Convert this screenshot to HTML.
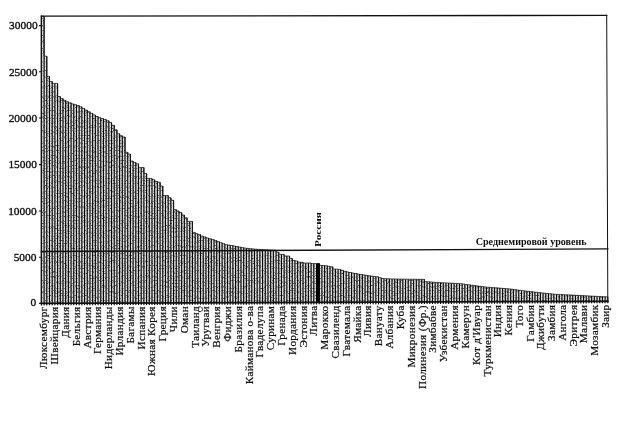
<!DOCTYPE html>
<html lang="ru"><head><meta charset="utf-8"><title>Chart</title>
<style>
html,body{margin:0;padding:0;background:#fff;}
body{width:632px;height:422px;overflow:hidden;}
svg{display:block;filter:grayscale(1);font-family:"Liberation Serif","DejaVu Serif",serif;fill:#111;}
.yl{font-size:11.4px;text-anchor:end;stroke:#111;stroke-width:0.35px;}
.xl{font-size:11.2px;text-anchor:end;stroke:#111;stroke-width:0.22px;letter-spacing:0.3px;}
.b{font-weight:bold;}
</style></head><body>
<svg width="632" height="422" viewBox="0 0 632 422">
<defs><filter id="n" x="0" y="0" width="100%" height="100%" color-interpolation-filters="sRGB"><feTurbulence type="fractalNoise" baseFrequency="1.0 0.6" numOctaves="2" seed="7"/><feColorMatrix type="matrix" values="0 0 0 0 0  0 0 0 0 0  0 0 0 0 0  2.6 0 0 0 -1.28"/></filter><clipPath id="cb"><path d="M41.40 303.40L41.40 16.30L44.10 16.30L44.10 56.20L46.79 56.20L46.79 76.50L49.49 76.50L49.49 81.50L52.19 81.50L52.19 83.40L54.89 83.40L54.89 83.40L57.58 83.40L57.58 96.50L60.28 96.50L60.28 98.60L62.98 98.60L62.98 100.33L65.67 100.33L65.67 101.78L68.37 101.78L68.37 102.84L71.07 102.84L71.07 103.89L73.77 103.89L73.77 104.73L76.46 104.73L76.46 105.54L79.16 105.54L79.16 106.81L81.86 106.81L81.86 108.44L84.55 108.44L84.55 110.06L87.25 110.06L87.25 111.69L89.95 111.69L89.95 113.32L92.65 113.32L92.65 114.92L95.34 114.92L95.34 116.52L98.04 116.52L98.04 117.72L100.74 117.72L100.74 118.53L103.43 118.53L103.43 119.44L106.13 119.44L106.13 120.76L108.83 120.76L108.83 122.45L111.53 122.45L111.53 125.37L114.22 125.37L114.22 129.79L116.92 129.79L116.92 133.76L119.62 133.76L119.62 135.68L122.31 135.68L122.31 137.00L125.01 137.00L125.01 152.30L127.71 152.30L127.71 154.00L130.41 154.00L130.41 161.00L133.10 161.00L133.10 162.40L135.80 162.40L135.80 163.80L138.50 163.80L138.50 167.60L141.19 167.60L141.19 167.60L143.89 167.60L143.89 173.46L146.59 173.46L146.59 178.40L149.29 178.40L149.29 178.40L151.98 178.40L151.98 179.70L154.68 179.70L154.68 181.34L157.38 181.34L157.38 182.20L160.07 182.20L160.07 186.00L162.77 186.00L162.77 195.49L165.47 195.49L165.47 195.59L168.17 195.59L168.17 197.71L170.86 197.71L170.86 200.20L173.56 200.20L173.56 209.60L176.26 209.60L176.26 210.90L178.95 210.90L178.95 212.50L181.65 212.50L181.65 215.00L184.35 215.00L184.35 217.80L187.05 217.80L187.05 221.40L189.74 221.40L189.74 221.40L192.44 221.40L192.44 232.40L195.14 232.40L195.14 233.70L197.83 233.70L197.83 234.60L200.53 234.60L200.53 236.13L203.23 236.13L203.23 236.92L205.93 236.92L205.93 237.99L208.62 237.99L208.62 238.79L211.32 238.79L211.32 239.59L214.02 239.59L214.02 240.62L216.71 240.62L216.71 241.64L219.41 241.64L219.41 242.73L222.11 242.73L222.11 243.84L224.81 243.84L224.81 244.72L227.50 244.72L227.50 245.11L230.20 245.11L230.20 245.49L232.90 245.49L232.90 246.04L235.59 246.04L235.59 246.59L238.29 246.59L238.29 247.11L240.99 247.11L240.99 247.63L243.69 247.63L243.69 248.08L246.38 248.08L246.38 248.38L249.08 248.38L249.08 248.68L251.78 248.68L251.78 248.94L254.47 248.94L254.47 249.19L257.17 249.19L257.17 249.40L259.87 249.40L259.87 249.57L262.57 249.57L262.57 249.73L265.26 249.73L265.26 249.86L267.96 249.86L267.96 249.99L270.66 249.99L270.66 250.11L273.35 250.11L273.35 250.23L276.05 250.23L276.05 252.20L278.75 252.20L278.75 254.34L281.45 254.34L281.45 254.40L284.14 254.40L284.14 256.00L286.84 256.00L286.84 256.00L289.54 256.00L289.54 258.50L292.23 258.50L292.23 260.57L294.93 260.57L294.93 261.00L297.63 261.00L297.63 262.30L300.33 262.30L300.33 262.30L303.02 262.30L303.02 263.00L305.72 263.00L305.72 263.00L308.42 263.00L308.42 263.00L311.11 263.00L311.11 263.60L313.81 263.60L313.81 263.60L316.51 263.60L316.51 263.60L319.21 263.60L319.21 265.37L321.90 265.37L321.90 265.59L324.60 265.59L324.60 265.80L327.30 265.80L327.30 266.31L329.99 266.31L329.99 266.84L332.69 266.84L332.69 269.00L335.39 269.00L335.39 269.16L338.09 269.16L338.09 269.45L340.78 269.45L340.78 270.39L343.48 270.39L343.48 271.34L346.18 271.34L346.18 271.96L348.87 271.96L348.87 272.52L351.57 272.52L351.57 273.05L354.27 273.05L354.27 273.55L356.97 273.55L356.97 274.05L359.66 274.05L359.66 274.48L362.36 274.48L362.36 274.91L365.06 274.91L365.06 275.33L367.75 275.33L367.75 275.76L370.45 275.76L370.45 276.15L373.15 276.15L373.15 276.49L375.85 276.49L375.85 276.87L378.54 276.87L378.54 277.78L381.24 277.78L381.24 278.53L383.94 278.53L383.94 278.67L386.63 278.67L386.63 278.81L389.33 278.81L389.33 278.92L392.03 278.92L392.03 278.97L394.73 278.97L394.73 279.02L397.42 279.02L397.42 279.08L400.12 279.08L400.12 279.12L402.82 279.12L402.82 279.15L405.51 279.15L405.51 279.18L408.21 279.18L408.21 279.21L410.91 279.21L410.91 279.25L413.61 279.25L413.61 279.28L416.30 279.28L416.30 279.31L419.00 279.31L419.00 279.34L421.70 279.34L421.70 279.37L424.39 279.37L424.39 281.63L427.09 281.63L427.09 281.83L429.79 281.83L429.79 282.02L432.49 282.02L432.49 282.22L435.18 282.22L435.18 282.41L437.88 282.41L437.88 282.60L440.58 282.60L440.58 282.76L443.27 282.76L443.27 282.89L445.97 282.89L445.97 283.02L448.67 283.02L448.67 283.14L451.37 283.14L451.37 283.27L454.06 283.27L454.06 283.39L456.76 283.39L456.76 283.52L459.46 283.52L459.46 283.71L462.15 283.71L462.15 284.10L464.85 284.10L464.85 284.48L467.55 284.48L467.55 284.86L470.25 284.86L470.25 285.24L472.94 285.24L472.94 285.60L475.64 285.60L475.64 285.94L478.34 285.94L478.34 286.29L481.03 286.29L481.03 286.63L483.73 286.63L483.73 286.97L486.43 286.97L486.43 287.20L489.13 287.20L489.13 287.41L491.82 287.41L491.82 287.62L494.52 287.62L494.52 287.83L497.22 287.83L497.22 288.04L499.91 288.04L499.91 288.26L502.61 288.26L502.61 288.47L505.31 288.47L505.31 288.69L508.01 288.69L508.01 288.90L510.70 288.90L510.70 289.21L513.40 289.21L513.40 289.61L516.10 289.61L516.10 290.00L518.79 290.00L518.79 290.38L521.49 290.38L521.49 290.70L524.19 290.70L524.19 291.02L526.89 291.02L526.89 291.34L529.58 291.34L529.58 291.65L532.28 291.65L532.28 291.96L534.98 291.96L534.98 292.27L537.67 292.27L537.67 292.58L540.37 292.58L540.37 292.89L543.07 292.89L543.07 293.18L545.77 293.18L545.77 293.46L548.46 293.46L548.46 293.73L551.16 293.73L551.16 294.01L553.86 294.01L553.86 294.29L556.55 294.29L556.55 294.42L559.25 294.42L559.25 294.55L561.95 294.55L561.95 294.68L564.65 294.68L564.65 294.81L567.34 294.81L567.34 294.93L570.04 294.93L570.04 295.06L572.74 295.06L572.74 295.19L575.43 295.19L575.43 295.32L578.13 295.32L578.13 295.45L580.83 295.45L580.83 295.59L583.53 295.59L583.53 295.74L586.22 295.74L586.22 295.88L588.92 295.88L588.92 296.03L591.62 296.03L591.62 296.18L594.31 296.18L594.31 296.31L597.01 296.31L597.01 296.44L599.71 296.44L599.71 296.57L602.41 296.57L602.41 296.70L605.10 296.70L605.10 296.83L607.80 296.83L607.80 301.30Z"/></clipPath></defs>
<rect width="632" height="422" fill="#fff"/>
<g id="bars">
<path d="M41.40 303.40L41.40 16.30L44.10 16.30L44.10 56.20L46.79 56.20L46.79 76.50L49.49 76.50L49.49 81.50L52.19 81.50L52.19 83.40L54.89 83.40L54.89 83.40L57.58 83.40L57.58 96.50L60.28 96.50L60.28 98.60L62.98 98.60L62.98 100.33L65.67 100.33L65.67 101.78L68.37 101.78L68.37 102.84L71.07 102.84L71.07 103.89L73.77 103.89L73.77 104.73L76.46 104.73L76.46 105.54L79.16 105.54L79.16 106.81L81.86 106.81L81.86 108.44L84.55 108.44L84.55 110.06L87.25 110.06L87.25 111.69L89.95 111.69L89.95 113.32L92.65 113.32L92.65 114.92L95.34 114.92L95.34 116.52L98.04 116.52L98.04 117.72L100.74 117.72L100.74 118.53L103.43 118.53L103.43 119.44L106.13 119.44L106.13 120.76L108.83 120.76L108.83 122.45L111.53 122.45L111.53 125.37L114.22 125.37L114.22 129.79L116.92 129.79L116.92 133.76L119.62 133.76L119.62 135.68L122.31 135.68L122.31 137.00L125.01 137.00L125.01 152.30L127.71 152.30L127.71 154.00L130.41 154.00L130.41 161.00L133.10 161.00L133.10 162.40L135.80 162.40L135.80 163.80L138.50 163.80L138.50 167.60L141.19 167.60L141.19 167.60L143.89 167.60L143.89 173.46L146.59 173.46L146.59 178.40L149.29 178.40L149.29 178.40L151.98 178.40L151.98 179.70L154.68 179.70L154.68 181.34L157.38 181.34L157.38 182.20L160.07 182.20L160.07 186.00L162.77 186.00L162.77 195.49L165.47 195.49L165.47 195.59L168.17 195.59L168.17 197.71L170.86 197.71L170.86 200.20L173.56 200.20L173.56 209.60L176.26 209.60L176.26 210.90L178.95 210.90L178.95 212.50L181.65 212.50L181.65 215.00L184.35 215.00L184.35 217.80L187.05 217.80L187.05 221.40L189.74 221.40L189.74 221.40L192.44 221.40L192.44 232.40L195.14 232.40L195.14 233.70L197.83 233.70L197.83 234.60L200.53 234.60L200.53 236.13L203.23 236.13L203.23 236.92L205.93 236.92L205.93 237.99L208.62 237.99L208.62 238.79L211.32 238.79L211.32 239.59L214.02 239.59L214.02 240.62L216.71 240.62L216.71 241.64L219.41 241.64L219.41 242.73L222.11 242.73L222.11 243.84L224.81 243.84L224.81 244.72L227.50 244.72L227.50 245.11L230.20 245.11L230.20 245.49L232.90 245.49L232.90 246.04L235.59 246.04L235.59 246.59L238.29 246.59L238.29 247.11L240.99 247.11L240.99 247.63L243.69 247.63L243.69 248.08L246.38 248.08L246.38 248.38L249.08 248.38L249.08 248.68L251.78 248.68L251.78 248.94L254.47 248.94L254.47 249.19L257.17 249.19L257.17 249.40L259.87 249.40L259.87 249.57L262.57 249.57L262.57 249.73L265.26 249.73L265.26 249.86L267.96 249.86L267.96 249.99L270.66 249.99L270.66 250.11L273.35 250.11L273.35 250.23L276.05 250.23L276.05 252.20L278.75 252.20L278.75 254.34L281.45 254.34L281.45 254.40L284.14 254.40L284.14 256.00L286.84 256.00L286.84 256.00L289.54 256.00L289.54 258.50L292.23 258.50L292.23 260.57L294.93 260.57L294.93 261.00L297.63 261.00L297.63 262.30L300.33 262.30L300.33 262.30L303.02 262.30L303.02 263.00L305.72 263.00L305.72 263.00L308.42 263.00L308.42 263.00L311.11 263.00L311.11 263.60L313.81 263.60L313.81 263.60L316.51 263.60L316.51 263.60L319.21 263.60L319.21 265.37L321.90 265.37L321.90 265.59L324.60 265.59L324.60 265.80L327.30 265.80L327.30 266.31L329.99 266.31L329.99 266.84L332.69 266.84L332.69 269.00L335.39 269.00L335.39 269.16L338.09 269.16L338.09 269.45L340.78 269.45L340.78 270.39L343.48 270.39L343.48 271.34L346.18 271.34L346.18 271.96L348.87 271.96L348.87 272.52L351.57 272.52L351.57 273.05L354.27 273.05L354.27 273.55L356.97 273.55L356.97 274.05L359.66 274.05L359.66 274.48L362.36 274.48L362.36 274.91L365.06 274.91L365.06 275.33L367.75 275.33L367.75 275.76L370.45 275.76L370.45 276.15L373.15 276.15L373.15 276.49L375.85 276.49L375.85 276.87L378.54 276.87L378.54 277.78L381.24 277.78L381.24 278.53L383.94 278.53L383.94 278.67L386.63 278.67L386.63 278.81L389.33 278.81L389.33 278.92L392.03 278.92L392.03 278.97L394.73 278.97L394.73 279.02L397.42 279.02L397.42 279.08L400.12 279.08L400.12 279.12L402.82 279.12L402.82 279.15L405.51 279.15L405.51 279.18L408.21 279.18L408.21 279.21L410.91 279.21L410.91 279.25L413.61 279.25L413.61 279.28L416.30 279.28L416.30 279.31L419.00 279.31L419.00 279.34L421.70 279.34L421.70 279.37L424.39 279.37L424.39 281.63L427.09 281.63L427.09 281.83L429.79 281.83L429.79 282.02L432.49 282.02L432.49 282.22L435.18 282.22L435.18 282.41L437.88 282.41L437.88 282.60L440.58 282.60L440.58 282.76L443.27 282.76L443.27 282.89L445.97 282.89L445.97 283.02L448.67 283.02L448.67 283.14L451.37 283.14L451.37 283.27L454.06 283.27L454.06 283.39L456.76 283.39L456.76 283.52L459.46 283.52L459.46 283.71L462.15 283.71L462.15 284.10L464.85 284.10L464.85 284.48L467.55 284.48L467.55 284.86L470.25 284.86L470.25 285.24L472.94 285.24L472.94 285.60L475.64 285.60L475.64 285.94L478.34 285.94L478.34 286.29L481.03 286.29L481.03 286.63L483.73 286.63L483.73 286.97L486.43 286.97L486.43 287.20L489.13 287.20L489.13 287.41L491.82 287.41L491.82 287.62L494.52 287.62L494.52 287.83L497.22 287.83L497.22 288.04L499.91 288.04L499.91 288.26L502.61 288.26L502.61 288.47L505.31 288.47L505.31 288.69L508.01 288.69L508.01 288.90L510.70 288.90L510.70 289.21L513.40 289.21L513.40 289.61L516.10 289.61L516.10 290.00L518.79 290.00L518.79 290.38L521.49 290.38L521.49 290.70L524.19 290.70L524.19 291.02L526.89 291.02L526.89 291.34L529.58 291.34L529.58 291.65L532.28 291.65L532.28 291.96L534.98 291.96L534.98 292.27L537.67 292.27L537.67 292.58L540.37 292.58L540.37 292.89L543.07 292.89L543.07 293.18L545.77 293.18L545.77 293.46L548.46 293.46L548.46 293.73L551.16 293.73L551.16 294.01L553.86 294.01L553.86 294.29L556.55 294.29L556.55 294.42L559.25 294.42L559.25 294.55L561.95 294.55L561.95 294.68L564.65 294.68L564.65 294.81L567.34 294.81L567.34 294.93L570.04 294.93L570.04 295.06L572.74 295.06L572.74 295.19L575.43 295.19L575.43 295.32L578.13 295.32L578.13 295.45L580.83 295.45L580.83 295.59L583.53 295.59L583.53 295.74L586.22 295.74L586.22 295.88L588.92 295.88L588.92 296.03L591.62 296.03L591.62 296.18L594.31 296.18L594.31 296.31L597.01 296.31L597.01 296.44L599.71 296.44L599.71 296.57L602.41 296.57L602.41 296.70L605.10 296.70L605.10 296.83L607.80 296.83L607.80 301.30Z" fill="#e2e2e2" stroke="none"/>
<g clip-path="url(#cb)"><rect x="40" y="14" width="570" height="292" fill="#000" filter="url(#n)"/></g>
<path d="M41.40 16.30V305.40M44.10 16.30V305.39M46.79 56.20V305.38M49.49 76.50V305.37M52.19 81.50V305.36M54.89 83.40V305.35M57.58 83.40V305.34M60.28 96.50V305.33M62.98 98.60V305.32M65.67 100.33V305.31M68.37 101.78V305.30M71.07 102.84V305.29M73.77 103.89V305.28M76.46 104.73V305.27M79.16 105.54V305.26M81.86 106.81V305.25M84.55 108.44V305.24M87.25 110.06V305.23M89.95 111.69V305.22M92.65 113.32V305.21M95.34 114.92V305.20M98.04 116.52V305.19M100.74 117.72V305.18M103.43 118.53V305.17M106.13 119.44V305.16M108.83 120.76V305.15M111.53 122.45V305.14M114.22 125.37V305.13M116.92 129.79V305.12M119.62 133.76V305.11M122.31 135.68V305.10M125.01 137.00V305.09M127.71 152.30V305.08M130.41 154.00V305.07M133.10 161.00V305.06M135.80 162.40V305.05M138.50 163.80V305.04M141.19 167.60V305.03M143.89 167.60V305.02M146.59 173.46V305.01M149.29 178.40V305.00M151.98 178.40V304.99M154.68 179.70V304.98M157.38 181.34V304.97M160.07 182.20V304.96M162.77 186.00V304.95M165.47 195.49V304.94M168.17 195.59V304.93M170.86 197.71V304.92M173.56 200.20V304.91M176.26 209.60V304.90M178.95 210.90V304.89M181.65 212.50V304.88M184.35 215.00V304.87M187.05 217.80V304.86M189.74 221.40V304.85M192.44 221.40V304.84M195.14 232.40V304.83M197.83 233.70V304.82M200.53 234.60V304.81M203.23 236.13V304.80M205.93 236.92V304.79M208.62 237.99V304.78M211.32 238.79V304.77M214.02 239.59V304.76M216.71 240.62V304.75M219.41 241.64V304.74M222.11 242.73V304.73M224.81 243.84V304.72M227.50 244.72V304.71M230.20 245.11V304.70M232.90 245.49V304.69M235.59 246.04V304.68M238.29 246.59V304.67M240.99 247.11V304.66M243.69 247.63V304.65M246.38 248.08V304.64M249.08 248.38V304.63M251.78 248.68V304.62M254.47 248.94V304.61M257.17 249.19V304.60M259.87 249.40V304.59M262.57 249.57V304.58M265.26 249.73V304.57M267.96 249.86V304.56M270.66 249.99V304.55M273.35 250.11V304.54M276.05 250.23V304.53M278.75 252.20V304.52M281.45 254.34V304.51M284.14 254.40V304.50M286.84 256.00V304.49M289.54 256.00V304.48M292.23 258.50V304.47M294.93 260.57V304.46M297.63 261.00V304.45M300.33 262.30V304.44M303.02 262.30V304.43M305.72 263.00V304.42M308.42 263.00V304.41M311.11 263.00V304.40M313.81 263.60V304.39M316.51 263.60V304.38M319.21 263.60V304.37M321.90 265.37V304.36M324.60 265.59V304.35M327.30 265.80V304.34M329.99 266.31V304.33M332.69 266.84V304.32M335.39 269.00V304.31M338.09 269.16V304.30M340.78 269.45V304.29M343.48 270.39V304.28M346.18 271.34V304.27M348.87 271.96V304.26M351.57 272.52V304.25M354.27 273.05V304.24M356.97 273.55V304.23M359.66 274.05V304.22M362.36 274.48V304.21M365.06 274.91V304.20M367.75 275.33V304.19M370.45 275.76V304.18M373.15 276.15V304.17M375.85 276.49V304.16M378.54 276.87V304.15M381.24 277.78V304.14M383.94 278.53V304.13M386.63 278.67V304.12M389.33 278.81V304.11M392.03 278.92V304.10M394.73 278.97V304.09M397.42 279.02V304.08M400.12 279.08V304.07M402.82 279.12V304.06M405.51 279.15V304.05M408.21 279.18V304.04M410.91 279.21V304.03M413.61 279.25V304.02M416.30 279.28V304.01M419.00 279.31V304.00M421.70 279.34V303.99M424.39 279.37V303.98M427.09 281.63V303.97M429.79 281.83V303.96M432.49 282.02V303.95M435.18 282.22V303.94M437.88 282.41V303.93M440.58 282.60V303.92M443.27 282.76V303.91M445.97 282.89V303.90M448.67 283.02V303.89M451.37 283.14V303.88M454.06 283.27V303.87M456.76 283.39V303.86M459.46 283.52V303.85M462.15 283.71V303.84M464.85 284.10V303.83M467.55 284.48V303.82M470.25 284.86V303.81M472.94 285.24V303.80M475.64 285.60V303.79M478.34 285.94V303.78M481.03 286.29V303.77M483.73 286.63V303.76M486.43 286.97V303.75M489.13 287.20V303.74M491.82 287.41V303.73M494.52 287.62V303.72M497.22 287.83V303.71M499.91 288.04V303.70M502.61 288.26V303.69M505.31 288.47V303.68M508.01 288.69V303.67M510.70 288.90V303.66M513.40 289.21V303.65M516.10 289.61V303.64M518.79 290.00V303.63M521.49 290.38V303.62M524.19 290.70V303.61M526.89 291.02V303.60M529.58 291.34V303.59M532.28 291.65V303.58M534.98 291.96V303.57M537.67 292.27V303.56M540.37 292.58V303.55M543.07 292.89V303.54M545.77 293.18V303.53M548.46 293.46V303.52M551.16 293.73V303.51M553.86 294.01V303.50M556.55 294.29V303.49M559.25 294.42V303.48M561.95 294.55V303.47M564.65 294.68V303.46M567.34 294.81V303.45M570.04 294.93V303.44M572.74 295.06V303.43M575.43 295.19V303.42M578.13 295.32V303.41M580.83 295.45V303.40M583.53 295.59V303.39M586.22 295.74V303.38M588.92 295.88V303.37M591.62 296.03V303.36M594.31 296.18V303.35M597.01 296.31V303.34M599.71 296.44V303.33M602.41 296.57V303.32M605.10 296.70V303.31M607.80 296.83V303.30" fill="none" stroke="#000" stroke-width="1.12"/>
<path d="M41.40 16.30L41.40 16.30L44.10 16.30L44.10 56.20L46.79 56.20L46.79 76.50L49.49 76.50L49.49 81.50L52.19 81.50L52.19 83.40L54.89 83.40L54.89 83.40L57.58 83.40L57.58 96.50L60.28 96.50L60.28 98.60L62.98 98.60L62.98 100.33L65.67 100.33L65.67 101.78L68.37 101.78L68.37 102.84L71.07 102.84L71.07 103.89L73.77 103.89L73.77 104.73L76.46 104.73L76.46 105.54L79.16 105.54L79.16 106.81L81.86 106.81L81.86 108.44L84.55 108.44L84.55 110.06L87.25 110.06L87.25 111.69L89.95 111.69L89.95 113.32L92.65 113.32L92.65 114.92L95.34 114.92L95.34 116.52L98.04 116.52L98.04 117.72L100.74 117.72L100.74 118.53L103.43 118.53L103.43 119.44L106.13 119.44L106.13 120.76L108.83 120.76L108.83 122.45L111.53 122.45L111.53 125.37L114.22 125.37L114.22 129.79L116.92 129.79L116.92 133.76L119.62 133.76L119.62 135.68L122.31 135.68L122.31 137.00L125.01 137.00L125.01 152.30L127.71 152.30L127.71 154.00L130.41 154.00L130.41 161.00L133.10 161.00L133.10 162.40L135.80 162.40L135.80 163.80L138.50 163.80L138.50 167.60L141.19 167.60L141.19 167.60L143.89 167.60L143.89 173.46L146.59 173.46L146.59 178.40L149.29 178.40L149.29 178.40L151.98 178.40L151.98 179.70L154.68 179.70L154.68 181.34L157.38 181.34L157.38 182.20L160.07 182.20L160.07 186.00L162.77 186.00L162.77 195.49L165.47 195.49L165.47 195.59L168.17 195.59L168.17 197.71L170.86 197.71L170.86 200.20L173.56 200.20L173.56 209.60L176.26 209.60L176.26 210.90L178.95 210.90L178.95 212.50L181.65 212.50L181.65 215.00L184.35 215.00L184.35 217.80L187.05 217.80L187.05 221.40L189.74 221.40L189.74 221.40L192.44 221.40L192.44 232.40L195.14 232.40L195.14 233.70L197.83 233.70L197.83 234.60L200.53 234.60L200.53 236.13L203.23 236.13L203.23 236.92L205.93 236.92L205.93 237.99L208.62 237.99L208.62 238.79L211.32 238.79L211.32 239.59L214.02 239.59L214.02 240.62L216.71 240.62L216.71 241.64L219.41 241.64L219.41 242.73L222.11 242.73L222.11 243.84L224.81 243.84L224.81 244.72L227.50 244.72L227.50 245.11L230.20 245.11L230.20 245.49L232.90 245.49L232.90 246.04L235.59 246.04L235.59 246.59L238.29 246.59L238.29 247.11L240.99 247.11L240.99 247.63L243.69 247.63L243.69 248.08L246.38 248.08L246.38 248.38L249.08 248.38L249.08 248.68L251.78 248.68L251.78 248.94L254.47 248.94L254.47 249.19L257.17 249.19L257.17 249.40L259.87 249.40L259.87 249.57L262.57 249.57L262.57 249.73L265.26 249.73L265.26 249.86L267.96 249.86L267.96 249.99L270.66 249.99L270.66 250.11L273.35 250.11L273.35 250.23L276.05 250.23L276.05 252.20L278.75 252.20L278.75 254.34L281.45 254.34L281.45 254.40L284.14 254.40L284.14 256.00L286.84 256.00L286.84 256.00L289.54 256.00L289.54 258.50L292.23 258.50L292.23 260.57L294.93 260.57L294.93 261.00L297.63 261.00L297.63 262.30L300.33 262.30L300.33 262.30L303.02 262.30L303.02 263.00L305.72 263.00L305.72 263.00L308.42 263.00L308.42 263.00L311.11 263.00L311.11 263.60L313.81 263.60L313.81 263.60L316.51 263.60L316.51 263.60L319.21 263.60L319.21 265.37L321.90 265.37L321.90 265.59L324.60 265.59L324.60 265.80L327.30 265.80L327.30 266.31L329.99 266.31L329.99 266.84L332.69 266.84L332.69 269.00L335.39 269.00L335.39 269.16L338.09 269.16L338.09 269.45L340.78 269.45L340.78 270.39L343.48 270.39L343.48 271.34L346.18 271.34L346.18 271.96L348.87 271.96L348.87 272.52L351.57 272.52L351.57 273.05L354.27 273.05L354.27 273.55L356.97 273.55L356.97 274.05L359.66 274.05L359.66 274.48L362.36 274.48L362.36 274.91L365.06 274.91L365.06 275.33L367.75 275.33L367.75 275.76L370.45 275.76L370.45 276.15L373.15 276.15L373.15 276.49L375.85 276.49L375.85 276.87L378.54 276.87L378.54 277.78L381.24 277.78L381.24 278.53L383.94 278.53L383.94 278.67L386.63 278.67L386.63 278.81L389.33 278.81L389.33 278.92L392.03 278.92L392.03 278.97L394.73 278.97L394.73 279.02L397.42 279.02L397.42 279.08L400.12 279.08L400.12 279.12L402.82 279.12L402.82 279.15L405.51 279.15L405.51 279.18L408.21 279.18L408.21 279.21L410.91 279.21L410.91 279.25L413.61 279.25L413.61 279.28L416.30 279.28L416.30 279.31L419.00 279.31L419.00 279.34L421.70 279.34L421.70 279.37L424.39 279.37L424.39 281.63L427.09 281.63L427.09 281.83L429.79 281.83L429.79 282.02L432.49 282.02L432.49 282.22L435.18 282.22L435.18 282.41L437.88 282.41L437.88 282.60L440.58 282.60L440.58 282.76L443.27 282.76L443.27 282.89L445.97 282.89L445.97 283.02L448.67 283.02L448.67 283.14L451.37 283.14L451.37 283.27L454.06 283.27L454.06 283.39L456.76 283.39L456.76 283.52L459.46 283.52L459.46 283.71L462.15 283.71L462.15 284.10L464.85 284.10L464.85 284.48L467.55 284.48L467.55 284.86L470.25 284.86L470.25 285.24L472.94 285.24L472.94 285.60L475.64 285.60L475.64 285.94L478.34 285.94L478.34 286.29L481.03 286.29L481.03 286.63L483.73 286.63L483.73 286.97L486.43 286.97L486.43 287.20L489.13 287.20L489.13 287.41L491.82 287.41L491.82 287.62L494.52 287.62L494.52 287.83L497.22 287.83L497.22 288.04L499.91 288.04L499.91 288.26L502.61 288.26L502.61 288.47L505.31 288.47L505.31 288.69L508.01 288.69L508.01 288.90L510.70 288.90L510.70 289.21L513.40 289.21L513.40 289.61L516.10 289.61L516.10 290.00L518.79 290.00L518.79 290.38L521.49 290.38L521.49 290.70L524.19 290.70L524.19 291.02L526.89 291.02L526.89 291.34L529.58 291.34L529.58 291.65L532.28 291.65L532.28 291.96L534.98 291.96L534.98 292.27L537.67 292.27L537.67 292.58L540.37 292.58L540.37 292.89L543.07 292.89L543.07 293.18L545.77 293.18L545.77 293.46L548.46 293.46L548.46 293.73L551.16 293.73L551.16 294.01L553.86 294.01L553.86 294.29L556.55 294.29L556.55 294.42L559.25 294.42L559.25 294.55L561.95 294.55L561.95 294.68L564.65 294.68L564.65 294.81L567.34 294.81L567.34 294.93L570.04 294.93L570.04 295.06L572.74 295.06L572.74 295.19L575.43 295.19L575.43 295.32L578.13 295.32L578.13 295.45L580.83 295.45L580.83 295.59L583.53 295.59L583.53 295.74L586.22 295.74L586.22 295.88L588.92 295.88L588.92 296.03L591.62 296.03L591.62 296.18L594.31 296.18L594.31 296.31L597.01 296.31L597.01 296.44L599.71 296.44L599.71 296.57L602.41 296.57L602.41 296.70L605.10 296.70L605.10 296.83L607.80 296.83" fill="none" stroke="#1a1a1a" stroke-width="0.75"/>
<rect x="317.0" y="263.4" width="2.8" height="38.97" fill="#000"/>
</g>
<g stroke="#111" fill="none" stroke-linecap="square">
<path d="M41.40 16.10L606.70 15.40" stroke-width="1.3"/>
<path d="M606.70 15.40L607.80 301.30" stroke-width="1.0"/>
<path d="M41.40 16.10L41.40 303.40" stroke-width="1.3"/>
<path d="M41.40 303.40L607.80 301.30" stroke-width="1.7"/>
<path d="M41.40 251.50L607.80 248.90" stroke-width="1.4"/>
<path d="M39.60 25.60H41.40M39.60 71.80H41.40M39.60 118.00H41.40M39.60 164.60H41.40M39.60 211.00H41.40M39.60 257.20H41.40M39.60 303.40H41.40" stroke-width="1.1"/>
</g>
<g class="yl">
<text x="37.60" y="29.30">30000</text>
<text x="37.37" y="75.50">25000</text>
<text x="37.13" y="121.70">20000</text>
<text x="36.90" y="168.30">15000</text>
<text x="36.67" y="214.70">10000</text>
<text x="36.43" y="260.90">5000</text>
<text x="36.20" y="306.30">0</text>
</g>
<g class="xl">
<text transform="translate(47.10 306.58) rotate(-90)">Люксембург</text>
<text transform="translate(57.96 306.54) rotate(-90)">Швейцария</text>
<text transform="translate(68.83 306.50) rotate(-90)">Дания</text>
<text transform="translate(79.69 306.46) rotate(-90)">Бельгия</text>
<text transform="translate(90.55 306.42) rotate(-90)">Австрия</text>
<text transform="translate(101.42 306.38) rotate(-90)">Германия</text>
<text transform="translate(112.28 306.34) rotate(-90)">Нидерланды</text>
<text transform="translate(123.08 306.30) rotate(-90)">Ирландия</text>
<text transform="translate(133.87 306.26) rotate(-90)">Багамы</text>
<text transform="translate(144.66 306.22) rotate(-90)">Испания</text>
<text transform="translate(155.46 306.18) rotate(-90)">Южная Корея</text>
<text transform="translate(166.25 306.14) rotate(-90)">Греция</text>
<text transform="translate(177.05 306.10) rotate(-90)">Чили</text>
<text transform="translate(187.84 306.06) rotate(-90)">Оман</text>
<text transform="translate(198.64 306.02) rotate(-90)">Таиланд</text>
<text transform="translate(209.43 305.98) rotate(-90)">Уругвай</text>
<text transform="translate(220.23 305.94) rotate(-90)">Венгрия</text>
<text transform="translate(231.02 305.90) rotate(-90)">Фиджи</text>
<text transform="translate(241.82 305.86) rotate(-90)">Бразилия</text>
<text transform="translate(252.61 305.82) rotate(-90)">Кайманова о-ва</text>
<text transform="translate(263.41 305.78) rotate(-90)">Гваделупа</text>
<text transform="translate(274.21 305.74) rotate(-90)">Суринам</text>
<text transform="translate(285.00 305.70) rotate(-90)">Гренада</text>
<text transform="translate(295.80 305.66) rotate(-90)">Иордания</text>
<text transform="translate(306.59 305.62) rotate(-90)">Эстония</text>
<text transform="translate(317.39 305.58) rotate(-90)">Литва</text>
<text transform="translate(328.18 305.54) rotate(-90)">Марокко</text>
<text transform="translate(339.01 305.50) rotate(-90)">Свазиленд</text>
<text transform="translate(349.83 305.46) rotate(-90)">Гватемала</text>
<text transform="translate(360.66 305.42) rotate(-90)">Ямайка</text>
<text transform="translate(371.49 305.38) rotate(-90)">Ливия</text>
<text transform="translate(382.32 305.34) rotate(-90)">Вануату</text>
<text transform="translate(393.14 305.30) rotate(-90)">Албания</text>
<text transform="translate(403.97 305.26) rotate(-90)">Куба</text>
<text transform="translate(414.80 305.22) rotate(-90)">Микронезия</text>
<text transform="translate(425.62 305.18) rotate(-90)">Полинезия (Фр.)</text>
<text transform="translate(436.45 305.14) rotate(-90)">Зимбабве</text>
<text transform="translate(447.28 305.10) rotate(-90)">Узбекистан</text>
<text transform="translate(458.10 305.06) rotate(-90)">Армения</text>
<text transform="translate(468.93 305.01) rotate(-90)">Камерун</text>
<text transform="translate(479.76 304.97) rotate(-90)">Кот д'Ивуар</text>
<text transform="translate(490.59 304.93) rotate(-90)">Туркменистан</text>
<text transform="translate(501.41 304.89) rotate(-90)">Индия</text>
<text transform="translate(512.24 304.85) rotate(-90)">Кения</text>
<text transform="translate(522.95 304.81) rotate(-90)">Того</text>
<text transform="translate(533.67 304.77) rotate(-90)">Гамбия</text>
<text transform="translate(544.38 304.74) rotate(-90)">Джибути</text>
<text transform="translate(555.09 304.70) rotate(-90)">Замбия</text>
<text transform="translate(565.81 304.66) rotate(-90)">Ангола</text>
<text transform="translate(576.52 304.62) rotate(-90)">Эритрея</text>
<text transform="translate(587.23 304.58) rotate(-90)">Малави</text>
<text transform="translate(597.95 304.54) rotate(-90)">Мозамбик</text>
<text transform="translate(608.66 304.50) rotate(-90)">Заир</text>
</g>
<text class="b" font-size="9.2" transform="translate(320.6 247.0) rotate(-90)" textLength="35" lengthAdjust="spacingAndGlyphs">Россия</text>
<text class="b" font-size="10.5" x="475.7" y="245.3" textLength="111" lengthAdjust="spacingAndGlyphs">Среднемировой уровень</text>
</svg>
</body></html>
